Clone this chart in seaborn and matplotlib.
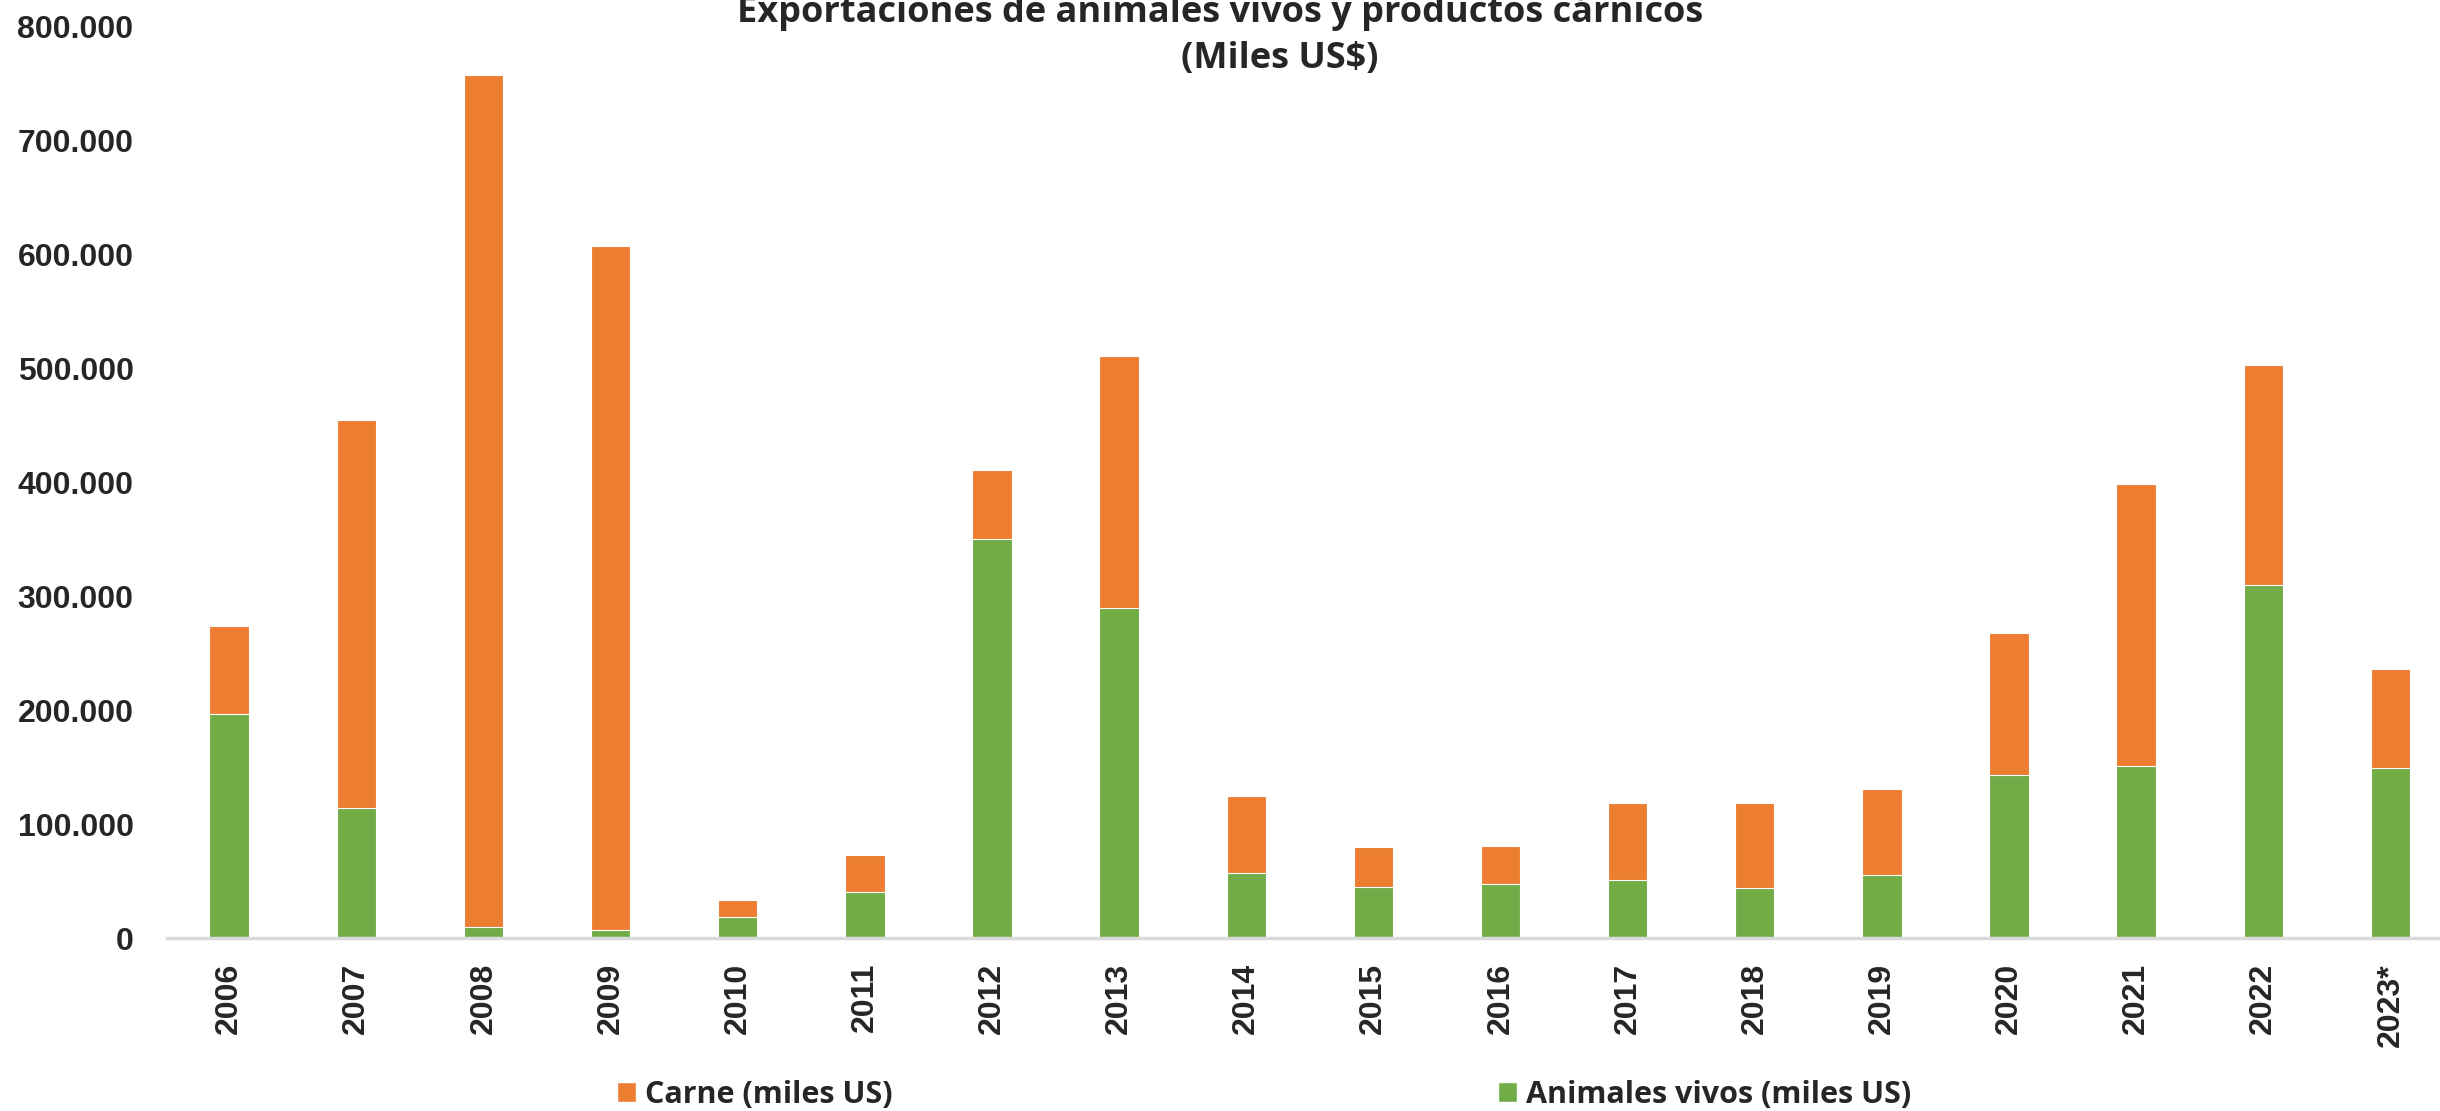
import pandas as pd
import seaborn as sns
import matplotlib.pyplot as plt
from matplotlib.patches import Patch
from matplotlib.ticker import FuncFormatter

# data (miles US$)
years = ['2006', '2007', '2008', '2009', '2010', '2011', '2012', '2013', '2014',
         '2015', '2016', '2017', '2018', '2019', '2020', '2021', '2022', '2023*']
vivos = [197000, 114000, 10000, 7000, 18500, 40000, 350000, 290000, 57000,
         45000, 47500, 51000, 44000, 55500, 143500, 151000, 310000, 149000]
carne = [77000, 341000, 748000, 601000, 14500, 33000, 61000, 221000, 68000,
         35000, 33500, 68000, 75000, 75500, 124500, 248000, 193000, 87000]

orange = '#ED7D31'
green = '#70AD47'

df = pd.DataFrame({'Year': years, 'Vivos': vivos, 'Carne': carne})
df['Total'] = df['Vivos'] + df['Carne']

sns.set_style('white')
tick_font = 'Liberation Sans'
text_font = ['Open Sans', 'DejaVu Sans']

fig = plt.figure(figsize=(24.4, 11.11), dpi=100)
ax = fig.add_axes([0.0684, 0.1557, 0.9316, 0.82])

# stacked bars: total (orange) first, then animales vivos (green) over it
sns.barplot(data=df, x='Year', y='Total', color=orange, saturation=1,
            width=0.31, edgecolor='white', linewidth=0.8, ax=ax)
sns.barplot(data=df, x='Year', y='Vivos', color=green, saturation=1,
            width=0.31, edgecolor='white', linewidth=0.8, ax=ax)

ax.set_xlim(-0.49, 17.39)
ax.set_ylim(0, 800000)
ax.set_yticks(range(0, 800001, 100000))
ax.yaxis.set_major_formatter(FuncFormatter(lambda v, p: f'{int(v):,}'.replace(',', '.')))
ax.set_xlabel('')
ax.set_ylabel('')

for s in ['top', 'right', 'left']:
    ax.spines[s].set_visible(False)
ax.spines['bottom'].set_color('#d9d9d9')
ax.spines['bottom'].set_linewidth(2.5)

ax.tick_params(axis='x', length=0, pad=18, rotation=90)
ax.tick_params(axis='y', length=0, pad=24)
for lbl in ax.get_xticklabels() + ax.get_yticklabels():
    lbl.set_fontfamily(tick_font)
    lbl.set_fontweight('bold')
    lbl.set_fontsize(23)

# title, two lines placed separately
fig.text(0.5, 1 - 22 / 1111, 'Exportaciones de animales vivos y productos cárnicos',
         ha='center', va='baseline', fontsize=26, fontweight='bold', family=text_font)
fig.text(1280 / 2440, 1 - 68 / 1111, '(Miles US$)',
         ha='center', va='baseline', fontsize=26, fontweight='bold', family=text_font)

handles = [Patch(facecolor=orange, label='Carne (miles US)'),
           Patch(facecolor=green, label='Animales vivos (miles US)')]
fig.legend(handles=handles, loc='center', bbox_to_anchor=(0.518, 1 - 1095 / 1111),
           ncol=2, frameon=False, handlelength=0.62, handleheight=0.65,
           handletextpad=0.3, columnspacing=19.8,
           prop={'family': text_font, 'weight': 'bold', 'size': 22})

fig.savefig('out.png', dpi=100)
